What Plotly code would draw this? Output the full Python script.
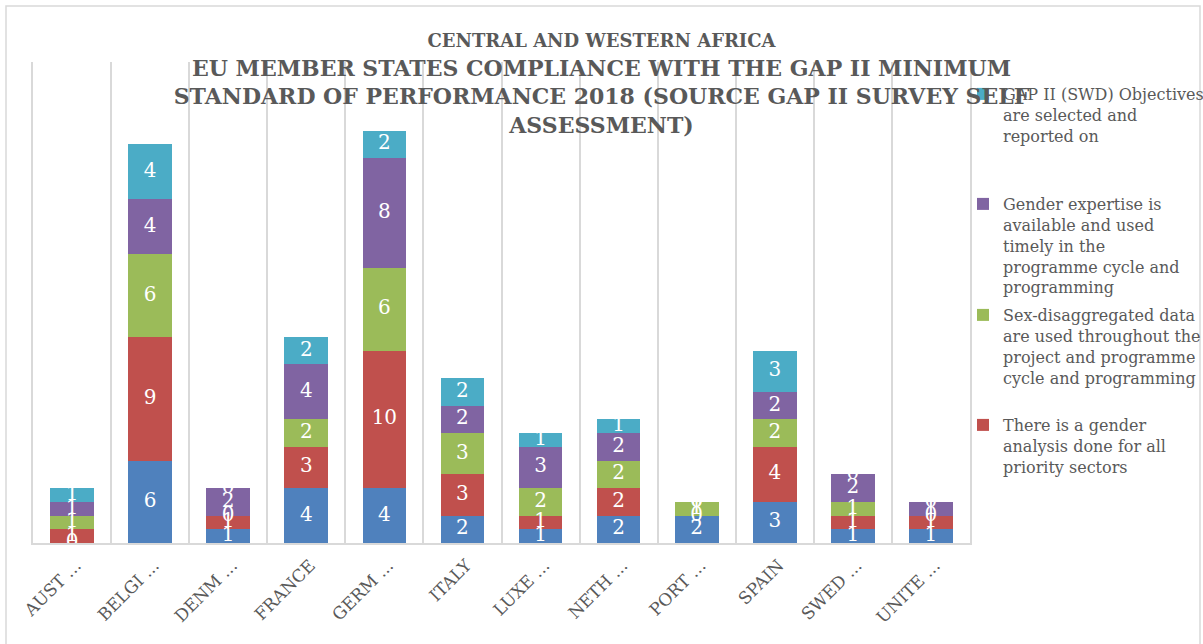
import plotly.graph_objects as go
import numpy as np

# ---------------- data ----------------
categories = ["Austria", "Belgium", "Denmark", "France", "Germany", "Italy",
              "Luxembourg", "Netherlands", "Portugal", "Spain", "Sweden", "United Kingdom"]
tick_labels = ["AUST ...", "BELGI ...", "DENM ...", "FRANCE", "GERM ...", "ITALY",
               "LUXE ...", "NETH ...", "PORT ...", "SPAIN", "SWED ...", "UNITE ..."]

series_names = [
    "Other minimum standard",
    "There is a gender<br>analysis done for all<br>priority sectors",
    "Sex-disaggregated data<br>are used throughout the<br>project and programme<br>cycle and programming",
    "Gender expertise is<br>available and used<br>timely in the<br>programme cycle and<br>programming",
    "GAP II (SWD) Objectives<br>are selected and<br>reported on",
]
blue_vals = [0, 6, 1, 4, 4, 2, 1, 2, 2, 3, 1, 1]
red_vals = [1, 9, 1, 3, 10, 3, 1, 2, 0, 4, 1, 1]
green_vals = [1, 6, 0, 2, 6, 3, 2, 2, 1, 2, 1, 0]
purple_vals = [1, 4, 2, 4, 8, 2, 3, 2, 0, 2, 2, 1]
cyan_vals = [1, 4, 0, 2, 2, 2, 1, 1, 0, 3, 0, 0]

title_line1 = "CENTRAL AND WESTERN AFRICA"
title_rest = ["EU MEMBER STATES COMPLIANCE WITH THE GAP II MINIMUM",
              "STANDARD OF PERFORMANCE 2018 (SOURCE GAP II SURVEY SELF",
              "ASSESSMENT)"]

# ---------------- styling ----------------
colors = ["#4F81BD", "#C0504D", "#9BBB59", "#8064A2", "#4BACC6"]
legend_ids = [None, "legend4", "legend3", "legend2", "legend"]
W, H = 1203, 644
L, R, T, B = 33, 233, 62, 101
plot_h = H - T - B
plot_w = W - L - R
legend_tops_px = [None, 408, 298, 187, 77]
TEXT = "#595959"
SERIF = "DejaVu Serif"

all_vals = [blue_vals, red_vals, green_vals, purple_vals, cyan_vals]

fig = go.Figure()
base = np.zeros(len(categories))
label_y = []
for i, vals in enumerate(all_vals):
    v = np.array(vals, dtype=float)
    label_y.append(base + v / 2.0)
    kw = {}
    if legend_ids[i] is not None:
        kw["legend"] = legend_ids[i]
    fig.add_trace(go.Bar(
        x=categories, y=vals, name=series_names[i],
        marker=dict(color=colors[i], line=dict(width=0)),
        showlegend=legend_ids[i] is not None,
        hovertemplate="%{x}: %{y}<extra></extra>",
        **kw,
    ))
    base = base + v

# data labels (white, centred in each segment, shown even for 0)
for i, vals in enumerate(all_vals):
    fig.add_trace(go.Scatter(
        x=categories, y=label_y[i], mode="text",
        text=[str(v) for v in vals],
        textfont=dict(family=SERIF, size=20, color="white"),
        textposition="middle center",
        showlegend=False, hoverinfo="skip", cliponaxis=False,
    ))

title_text = ("<span style='font-size:18px'>" + title_line1 + "</span><br>"
              + "<br>".join(title_rest))

layout_legends = {}
for i in range(1, 5):
    lid = legend_ids[i]
    ypx = legend_tops_px[i]
    layout_legends[lid] = dict(
        xref="container", yref="container",
        x=963 / W, xanchor="left",
        y=1 - ypx / H, yanchor="top",
        font=dict(family=SERIF, size=16, color=TEXT),
        bgcolor="rgba(0,0,0,0)", valign="top",
        itemclick=False, itemdoubleclick=False,
    )

fig.update_layout(
    width=W, height=H,
    margin=dict(l=L, r=R, t=T, b=B, autoexpand=False),
    barmode="stack", bargap=0.44,
    plot_bgcolor="white", paper_bgcolor="white",
    title=dict(text=title_text, x=0.5, xanchor="center", xref="container",
               y=1 - 47 / H, yanchor="top", yref="container",
               font=dict(family=SERIF, size=22, color=TEXT, weight="bold")),
    xaxis=dict(type="category", tickmode="array", tickvals=categories, ticktext=tick_labels,
               range=[-0.5, len(categories) - 0.5],
               tickangle=-45, tickson="boundaries", showgrid=True, gridcolor="#d9d9d9",
               gridwidth=1.5, showline=True, linecolor="#d9d9d9", linewidth=1.5,
               ticks="", tickfont=dict(family=SERIF, size=17, color=TEXT),
               ticklabelshift=4, ticklabelstandoff=4, zeroline=False, automargin=False),
    yaxis=dict(range=[0, 35], showgrid=False, showticklabels=False, zeroline=False,
               showline=True, mirror=True, linecolor="#d9d9d9", linewidth=1.5,
               ticks="", automargin=False),
    **layout_legends,
)

# outer chart border
fig.add_shape(type="rect", xref="paper", yref="paper",
              x0=(6 - L) / plot_w, x1=(1200 - L) / plot_w,
              y0=(H - B - 700) / plot_h, y1=(H - B - 6) / plot_h,
              line=dict(color="#d9d9d9", width=1.5), fillcolor="rgba(0,0,0,0)", layer="below")

fig.write_html("out.html", config={"displayModeBar": False},
               post_script="document.body.style.margin='0';")
